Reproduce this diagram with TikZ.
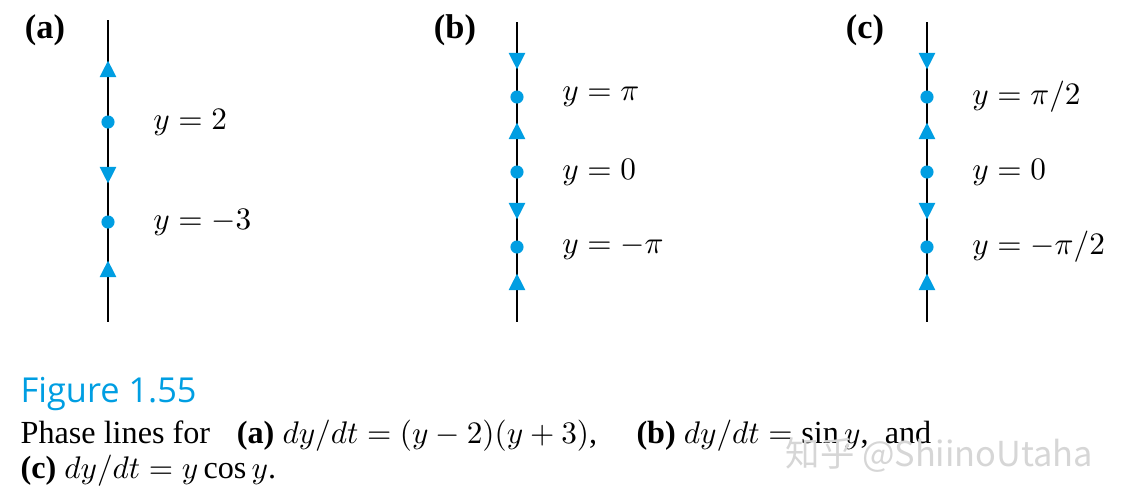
\documentclass[tikz,border=0pt]{standalone}
\usepackage{fontspec}
\setmainfont{Liberation Serif}
\newfontfamily\figfont{Open Sans}
\newfontfamily\cjk{Noto Sans CJK SC}
\usepackage{tikz}
\usepackage{xcolor}
\usetikzlibrary{positioning,shapes.geometric}
\definecolor{phase}{RGB}{0,158,226}

\begin{document}
\begin{tikzpicture}
[x=0.32pt, y=-0.32pt,
rest/.style={circle, fill=phase, inner sep=0pt, minimum size=4.2pt},
flow-up/.style={isosceles triangle, isosceles triangle apex angle=54, shape border rotate=90, fill=phase, inner sep=0pt, minimum size=5.3pt},
flow-dn/.style={flow-up, shape border rotate=270},
eq-a/.style={inner sep=0pt, font=\fontsize{10.2}{12}\selectfont},
panel/.style={font=\bfseries\fontsize{11}{13}\selectfont},
cap-a/.style={anchor=base west, inner sep=0pt, font=\fontsize{10.3}{12}\selectfont},]
\useasboundingbox (0,0) rectangle (1123,500);
%\draw [dotted, step=50] (0,0) grid (1123,500);
\node (panel-a) [panel] at (45,30) {(a)};
\coordinate (a-top) at (108,20);
\coordinate (a-bot) at (108,322);
\draw (a-top) -- (a-bot);
\node (a-flow1) [flow-up] at (108,72) {};
\node (a-rest1) [rest]    at (108,122) {};
\node (a-flow2) [flow-dn] at (108,172) {};
\node (a-rest2) [rest]    at (108,222) {};
\node (a-flow3) [flow-up] at (108,272) {};
\node (a-lab1) [eq-a, right = 12pt of a-rest1] {$y=2$};
\node (a-lab2) [eq-a, right = 12pt of a-rest2] {$y=-3$};
\node (panel-b) [panel] at (455,30) {(b)};
\coordinate (b-top) at (517,22);
\coordinate (b-bot) at (517,322);
\draw (b-top) -- (b-bot);
\node (b-flow1) [flow-dn] at (517,58) {};
\node (b-rest1) [rest]    at (517,97) {};
\node (b-flow2) [flow-up] at (517,134) {};
\node (b-rest2) [rest]    at (517,172) {};
\node (b-flow3) [flow-dn] at (517,208) {};
\node (b-rest3) [rest]    at (517,247) {};
\node (b-flow4) [flow-up] at (517,285) {};
\node (b-lab1) [eq-a, right = 12pt of b-rest1] {$y=\pi$};
\node (b-lab2) [eq-a, right = 12pt of b-rest2] {$y=0$};
\node (b-lab3) [eq-a, right = 12pt of b-rest3] {$y=-\pi$};
\node (panel-c) [panel] at (865,30) {(c)};
\coordinate (c-top) at (927,22);
\coordinate (c-bot) at (927,322);
\draw (c-top) -- (c-bot);
\node (c-flow1) [flow-dn] at (927,58) {};
\node (c-rest1) [rest]    at (927,97) {};
\node (c-flow2) [flow-up] at (927,134) {};
\node (c-rest2) [rest]    at (927,172) {};
\node (c-flow3) [flow-dn] at (927,208) {};
\node (c-rest3) [rest]    at (927,247) {};
\node (c-flow4) [flow-up] at (927,285) {};
\node (c-lab1) [eq-a, right = 12pt of c-rest1] {$y=\pi/2$};
\node (c-lab2) [eq-a, right = 12pt of c-rest2] {$y=0$};
\node (c-lab3) [eq-a, right = 12pt of c-rest3] {$y=-\pi/2$};
% caption
\node (fig-no) [cap-a, text=phase, font=\figfont\fontsize{11}{13}\selectfont] at (20,402) {Figure 1.55};
\node (cap-1) [cap-a] at (20,443) {Phase lines for\hspace{6pt} \textbf{(a)} $dy/dt=(y-2)(y+3)$,\hspace{10pt} \textbf{(b)} $dy/dt=\sin y$,\ \ and};
\node (cap-2) [cap-a] at (20,478) {\textbf{(c)} $dy/dt=y\cos y$.};
\node (mark) [anchor=west, inner sep=0pt, text=black!16, font=\cjk\fontsize{11}{13}\selectfont] at (785,455) {知乎 @ShiinoUtaha};
\end{tikzpicture}
\end{document}
